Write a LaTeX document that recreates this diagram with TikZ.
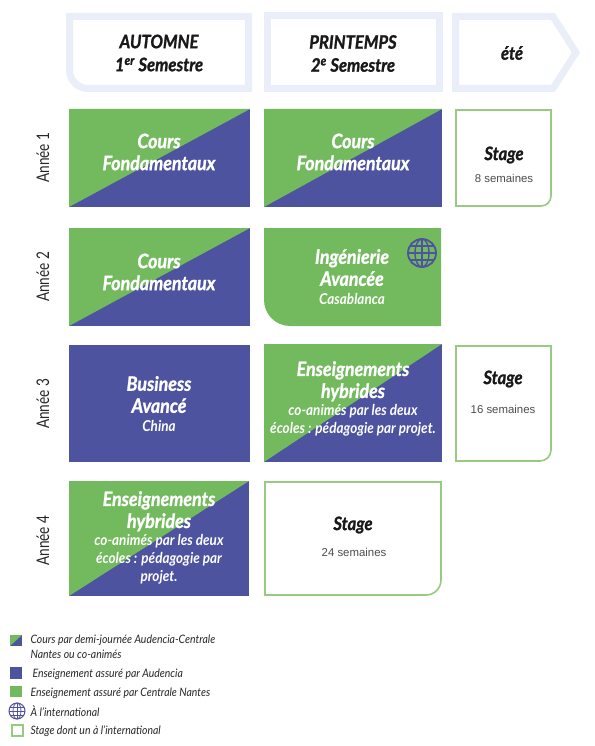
\documentclass[tikz,border=0pt]{standalone}
\usepackage{fontspec}
\setmainfont[FakeStretch=0.9]{Lato}
\newfontfamily\heavyfont[FakeStretch=0.9, FakeBold=1.2]{Lato}
\newfontfamily\yearfont[FakeStretch=0.78]{Lato}
\newfontfamily\plainfont{Liberation Sans}
\usepackage{xcolor}
\definecolor{audBlue}{HTML}{4D539F}
\definecolor{cenGreen}{HTML}{72BA5D}
\definecolor{stageGreen}{HTML}{96CB80}
\definecolor{headPale}{HTML}{E9EEF9}
\newcommand{\globeicon}[3]{%
  \draw[audBlue, line width=#3*0.13] (#1,#2) circle[radius=#3];
  \draw[audBlue, line width=#3*0.1] (#1,#2) ellipse[x radius=#3*0.5, y radius=#3];
  \draw[audBlue, line width=#3*0.1] (#1,{#2-#3}) -- (#1,{#2+#3});
  \draw[audBlue, line width=#3*0.1] ({#1-#3},#2) -- ({#1+#3},#2);
  \draw[audBlue, line width=#3*0.1] ({#1-#3*0.85},{#2-#3*0.5}) -- ({#1+#3*0.85},{#2-#3*0.5});
  \draw[audBlue, line width=#3*0.1] ({#1-#3*0.85},{#2+#3*0.5}) -- ({#1+#3*0.85},{#2+#3*0.5});
}
\tikzset{
  headbox/.style={draw=headPale, line width=7pt, fill=white, line join=miter},
  stagebox/.style={draw=stageGreen, line width=1.6pt, fill=white},
  yearlab/.style={rotate=90, font=\yearfont\fontsize{17.4}{18}\selectfont, text=black!85},
  headlab/.style={align=center, font=\heavyfont\fontsize{18.5}{23}\selectfont\bfseries\itshape, text=black!90},
  celllab/.style={align=center, text=white, font=\heavyfont\fontsize{19.8}{22}\selectfont\bfseries\itshape},
  stagelab/.style={font=\heavyfont\fontsize{18.5}{20}\selectfont\bfseries\itshape, text=black!90},
  weeklab/.style={font=\plainfont\fontsize{11.4}{13}\selectfont, text=black!70},
  keylab/.style={anchor=west, align=left, font=\fontsize{11.6}{15}\selectfont\itshape, text=black!85},
}
\newcommand{\sublab}[1]{{\normalfont\fontsize{15}{17.5}\selectfont\bfseries\itshape #1}}
\begin{document}
\begin{tikzpicture}[x=1pt, y=-1pt]
  \useasboundingbox (0,0) rectangle (594,746);
  % ------- header arrows -------
  \draw[headbox] (69.5,16.5) -- (248.5,16.5) -- (248.5,88.5) -- (88,88.5)
    arc[start angle=90, end angle=180, radius=18.5] -- cycle;
  \draw[headbox] (267,16) rectangle (439,88.5);
  \draw[headbox] (455.5,16.5) -- (553,16.5) -- (576,52.5) -- (553,88.5) -- (455.5,88.5) -- cycle;
  \node[headlab] (autumn) at (159,53) {AUTOMNE\\1\textsuperscript{er} Semestre};
  \node[headlab] (spring) at (353,53.5) {PRINTEMPS\\2\textsuperscript{e} Semestre};
  \node[headlab] (summer) at (512,53) {été};
  % ------- year labels -------
  \foreach \y/\lab in {157.5/1,277/2,404/3,540.5/4} {
    \node[yearlab] (year\lab) at (43,\y) {Année \lab};
  }
  % ------- two-school cells -------
  \foreach \xa/\ya/\xb/\yb in {69/109/250/207,264/109/442/207,69/228/250/326,264/344/442/462,69/481/249/596} {
    \fill[audBlue] (\xa,\ya) rectangle (\xb,\yb);
    \fill[cenGreen] (\xa,\ya) -- (\xb,\ya) -- (\xa,\yb) -- cycle;
  }
  % ------- single-school cells -------
  \fill[audBlue] (69,345) rectangle (250,462);
  \fill[cenGreen] (264,228) -- (441,228) -- (441,326) -- (290,326)
    arc[start angle=90, end angle=180, radius=26] -- cycle;
  \globeicon{422}{253}{14}
  % ------- stage cells -------
  \draw[stagebox] (456,110) -- (551,110) -- (551,196)
    arc[start angle=0, end angle=90, radius=10] -- (456,206) -- cycle;
  \draw[stagebox] (456,346) -- (551,346) -- (551,450)
    arc[start angle=0, end angle=90, radius=11] -- (456,461) -- cycle;
  \draw[stagebox] (265,482) -- (441,482) -- (441,580)
    arc[start angle=0, end angle=90, radius=15] -- (265,595) -- cycle;
  % ------- cell texts -------
  \node[celllab] (core1) at (159,152) {Cours\\Fondamentaux};
  \node[celllab] (core2) at (353,152) {Cours\\Fondamentaux};
  \node[celllab] (core3) at (159,272) {Cours\\Fondamentaux};
  \node[celllab] (eng) at (352,277) {Ingénierie\\Avancée\\[-3pt]\sublab{Casablanca}};
  \node[celllab] (biz) at (159,404) {Business\\Avancé\\[-3pt]\sublab{China}};
  \node[celllab] (hyb1) at (353,399) {Enseignements\\hybrides\\[-4pt]\sublab{co-animés par les deux}\\[-4pt]\sublab{écoles : pédagogie par projet.}};
  \node[celllab] (hyb2) at (159,538) {Enseignements\\hybrides\\[-4pt]\sublab{co-animés par les deux}\\[-4pt]\sublab{écoles : pédagogie par}\\[-4pt]\sublab{projet.}};
  \node[stagelab] (stage1) at (504,155) {Stage};
  \node[weeklab] (weeks1) at (504,178) {8 semaines};
  \node[stagelab] (stage2) at (503,379) {Stage};
  \node[weeklab] (weeks2) at (503,409) {16 semaines};
  \node[stagelab] (stage3) at (353,525) {Stage};
  \node[weeklab] (weeks3) at (354,552) {24 semaines};
  % ------- legend -------
  \fill[audBlue] (10,635) rectangle (22,646);
  \fill[cenGreen] (10,635) -- (22,635) -- (10,646) -- cycle;
  \fill[audBlue] (10,667) rectangle (22,679);
  \fill[cenGreen] (10,686) rectangle (22,697);
  \globeicon{17}{711}{8}
  \draw[stagebox, line width=2pt] (11.5,724.5) rectangle (23,735.5);
  \node[keylab] (key1) at (27,646.5) {Cours par demi-journée Audencia-Centrale\\Nantes ou co-animés};
  \node[keylab] (key2) at (29,674) {Enseignement assuré par Audencia};
  \node[keylab] (key3) at (27,693) {Enseignement assuré par Centrale Nantes};
  \node[keylab] (key4) at (27,711.5) {À l’international};
  \node[keylab] (key5) at (27,731.5) {Stage dont un à l’international};
\end{tikzpicture}
\end{document}
